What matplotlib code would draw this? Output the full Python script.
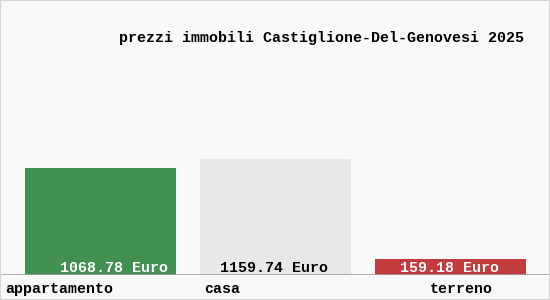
import matplotlib.pyplot as plt
from matplotlib.patches import Rectangle

categories = ['appartamento', 'casa', 'terreno']
prices = [1068.78, 1159.74, 159.18]
value_labels = ['1068.78 Euro', '1159.74 Euro', '159.18 Euro']
bar_colors = ['#429152', '#e8e8e8', '#c23c3e']
text_colors = ['white', 'black', 'white']
title = 'prezzi immobili Castiglione-Del-Genovesi 2025'

W, H = 550, 300
fig = plt.figure(figsize=(W / 100, H / 100), dpi=100)
fig.patch.set_facecolor('#f9f9f9')
fig.patches.append(Rectangle((0, 0), 1, 1, transform=fig.transFigure,
                             fill=False, edgecolor='#d4d4d4', linewidth=1.5))

# axes: data 0 at y=275 px, 10 units per px
ax = fig.add_axes([0, 25 / H, 1, 275 / H])
ax.set_facecolor('none')
step = 175
x0 = 100.5
ax.set_xlim(-x0 / step, (W - x0) / step)
ax.set_ylim(0, 2750)
xs = range(len(categories))
ax.bar(xs, prices, width=151 / step, color=bar_colors, zorder=2)
for s in ax.spines.values():
    s.set_visible(False)
ax.set_xticks([])
ax.set_yticks([])
ax.axhline(0, xmin=0, xmax=548 / W, color='#a0a0a0', linewidth=1.2, zorder=3)

font = {'family': ['Liberation Mono', 'DejaVu Sans Mono'], 'size': 10.8,
        'weight': 'semibold'}
offsets = [13 / step, -1.5 / step, -1.5 / step]
for i, (lab, c) in enumerate(zip(value_labels, text_colors)):
    ax.text(i + offsets[i], 70, lab, ha='center', va='center', color=c,
            fontdict=font, zorder=4)

cat_px = [5, 204, 430]
for lab, px in zip(categories, cat_px):
    fig.text(px / W, 1 - 289 / H, lab, ha='left', va='center', fontdict=font)

fig.text(524 / W, 1 - 38 / H, title, ha='right', va='center', fontdict=font)

fig.savefig('out.png', dpi=100, facecolor=fig.get_facecolor())
